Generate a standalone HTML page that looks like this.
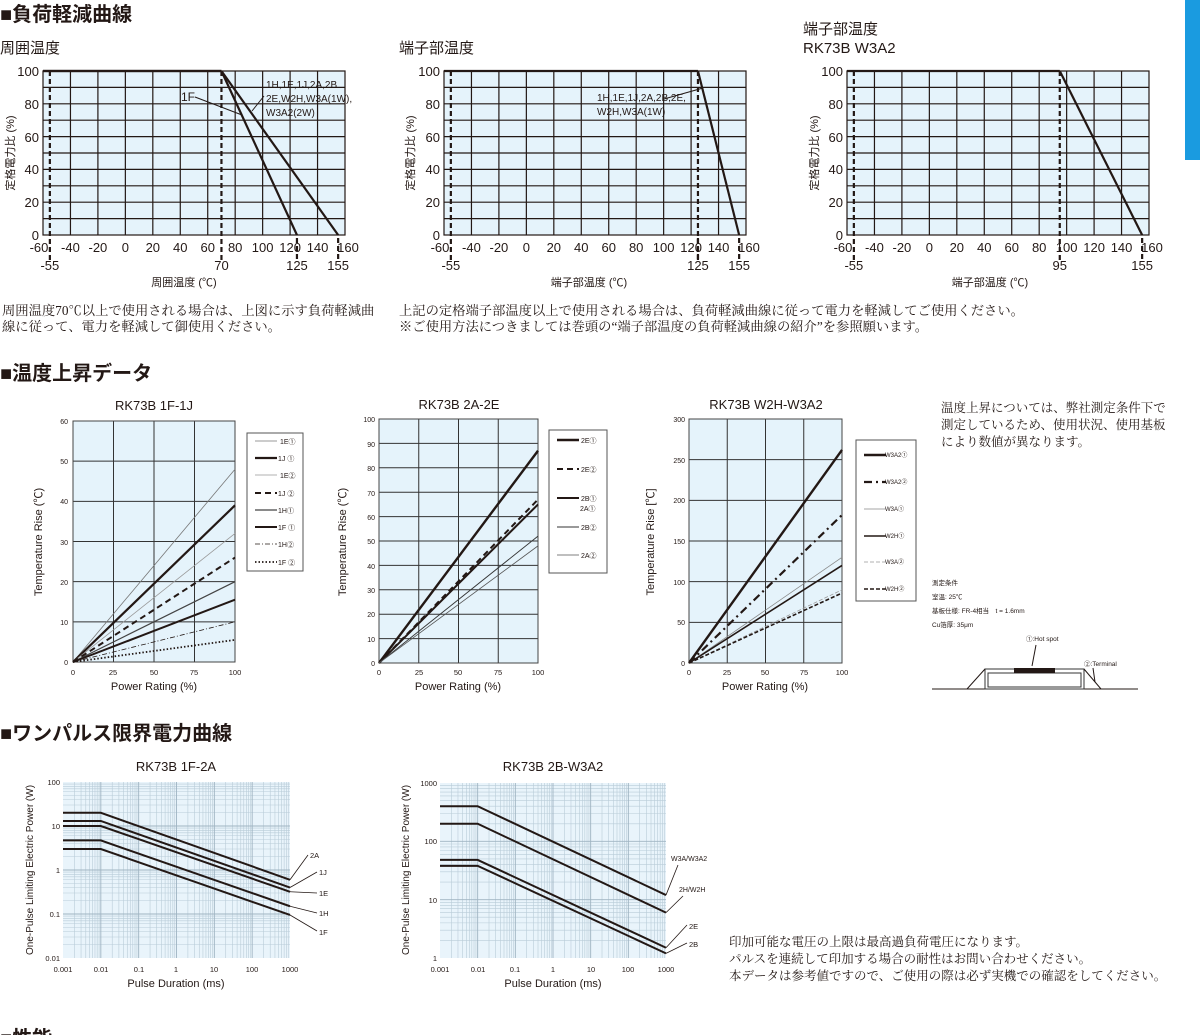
<!DOCTYPE html>
<html><head><meta charset="utf-8">
<style>
html,body{margin:0;padding:0;background:#fff;width:1200px;height:1035px;overflow:hidden}
svg{display:block}
.s{font-family:"Liberation Sans","Noto Sans CJK JP",sans-serif;fill:#231815}
.j{font-family:"Liberation Serif","Noto Serif CJK SC",serif;fill:#231815}
</style></head><body>
<svg id="s" width="1200" height="1035" viewBox="0 0 1200 1035" xmlns="http://www.w3.org/2000/svg">
<g id="g"></g>
<rect x="1185" y="0" width="15" height="160" fill="#1a9be0"/>
<text class="s" x="0" y="21" font-size="20" font-weight="bold">■負荷軽減曲線</text>
<text class="s" x="0" y="53" font-size="15">周囲温度</text>
<text class="s" x="399" y="53" font-size="15">端子部温度</text>
<text class="s" x="803" y="34" font-size="15">端子部温度</text>
<text class="s" x="803" y="53" font-size="15">RK73B W3A2</text>
<g class="s" font-size="13" text-anchor="end">
<text x="39" y="76">100</text><text x="39" y="109">80</text><text x="39" y="142">60</text><text x="39" y="174">40</text><text x="39" y="207">20</text><text x="39" y="240">0</text>
<text x="440" y="76">100</text><text x="440" y="109">80</text><text x="440" y="142">60</text><text x="440" y="174">40</text><text x="440" y="207">20</text><text x="440" y="240">0</text>
<text x="843" y="76">100</text><text x="843" y="109">80</text><text x="843" y="142">60</text><text x="843" y="174">40</text><text x="843" y="207">20</text><text x="843" y="240">0</text>
</g>
<g class="s" font-size="13" text-anchor="middle" id="xl"></g>
<g class="s" font-size="11" text-anchor="middle">
<text x="184" y="286">周囲温度 (℃)</text>
<text x="589" y="286">端子部温度 (℃)</text>
<text x="990" y="286">端子部温度 (℃)</text>
<text transform="translate(14,153) rotate(-90)">定格電力比 (%)</text>
<text transform="translate(414,153) rotate(-90)">定格電力比 (%)</text>
<text transform="translate(818,153) rotate(-90)">定格電力比 (%)</text>
</g>
<g class="s" font-size="10">
<text x="181" y="101" font-size="12">1F</text>
<text x="266" y="88">1H,1E,1J,2A,2B</text>
<text x="266" y="102">2E,W2H,W3A(1W),</text>
<text x="266" y="116">W3A2(2W)</text>
<text x="597" y="101">1H,1E,1J,2A,2B,2E,</text>
<text x="597" y="115">W2H,W3A(1W)</text>
</g>
<g class="j" font-size="13.3">
<text x="2" y="315">周囲温度70℃以上で使用される場合は、上図に示す負荷軽減曲</text>
<text x="2" y="331">線に従って、電力を軽減して御使用ください。</text>
<text x="399" y="315">上記の定格端子部温度以上で使用される場合は、負荷軽減曲線に従って電力を軽減してご使用ください。</text>
<text x="399" y="331">※ご使用方法につきましては巻頭の“端子部温度の負荷軽減曲線の紹介”を参照願います。</text>
</g>
<text class="s" x="0" y="380" font-size="20" font-weight="bold">■温度上昇データ</text>
<g class="s" font-size="13" text-anchor="middle">
<text x="154" y="410">RK73B 1F-1J</text>
<text x="459" y="409">RK73B 2A-2E</text>
<text x="766" y="409">RK73B W2H-W3A2</text>
</g>
<g class="s" font-size="7" text-anchor="end">
<text x="68" y="424">60</text><text x="68" y="464">50</text><text x="68" y="504">40</text><text x="68" y="545">30</text><text x="68" y="585">20</text><text x="68" y="625">10</text><text x="68" y="665">0</text>
<text x="375" y="422">100</text><text x="375" y="447">90</text><text x="375" y="471">80</text><text x="375" y="496">70</text><text x="375" y="520">60</text><text x="375" y="544">50</text><text x="375" y="569">40</text><text x="375" y="593">30</text><text x="375" y="617">20</text><text x="375" y="642">10</text><text x="375" y="666">0</text>
<text x="685" y="422">300</text><text x="685" y="463">250</text><text x="685" y="503">200</text><text x="685" y="544">150</text><text x="685" y="585">100</text><text x="685" y="625">50</text><text x="685" y="666">0</text>
</g>
<g class="s" font-size="7.5" text-anchor="middle">
<text x="73" y="675">0</text><text x="113" y="675">25</text><text x="154" y="675">50</text><text x="194" y="675">75</text><text x="235" y="675">100</text>
<text x="379" y="675">0</text><text x="419" y="675">25</text><text x="458" y="675">50</text><text x="498" y="675">75</text><text x="538" y="675">100</text>
<text x="689" y="675">0</text><text x="727" y="675">25</text><text x="765" y="675">50</text><text x="804" y="675">75</text><text x="842" y="675">100</text>
</g>
<g class="s" font-size="11" text-anchor="middle">
<text x="154" y="690">Power Rating (%)</text>
<text x="458" y="690">Power Rating (%)</text>
<text x="765" y="690">Power Rating (%)</text>
<text transform="translate(42,542) rotate(-90)">Temperature Rise (℃)</text>
<text transform="translate(346,542) rotate(-90)">Temperature Rise (℃)</text>
<text transform="translate(654,542) rotate(-90)">Temperature Rise [℃]</text>
</g>
<g class="s" font-size="7">
<text x="280" y="444">1E①</text><text x="278" y="461">1J ①</text><text x="280" y="478">1E②</text><text x="278" y="496">1J ②</text><text x="278" y="513">1H①</text><text x="278" y="530">1F ①</text><text x="278" y="547">1H②</text><text x="278" y="565">1F ②</text>
<text x="581" y="443">2E①</text><text x="581" y="472">2E②</text><text x="581" y="501">2B①</text><text x="580" y="511">2A①</text><text x="581" y="530">2B②</text><text x="581" y="558">2A②</text>
<text x="885" y="457" font-size="6">W3A2①</text><text x="885" y="484" font-size="6">W3A2②</text><text x="885" y="511" font-size="6">W3A①</text><text x="885" y="538" font-size="6">W2H①</text><text x="885" y="564" font-size="6">W3A②</text><text x="885" y="591" font-size="6">W2H②</text>
</g>
<g class="j" font-size="12.5">
<text x="941" y="412">温度上昇については、弊社測定条件下で</text>
<text x="941" y="429">測定しているため、使用状況、使用基板</text>
<text x="941" y="446">により数値が異なります。</text>
</g>
<g class="s" font-size="6.5">
<text x="932" y="585">測定条件</text>
<text x="932" y="599">室温: 25℃</text>
<text x="932" y="613">基板仕様: FR-4相当　t = 1.6mm</text>
<text x="932" y="627">Cu箔厚: 35μm</text>
<text x="1026" y="641">①:Hot spot</text>
<text x="1084" y="666">②:Terminal</text>
</g>
<text class="s" x="0" y="740" font-size="20" font-weight="bold">■ワンパルス限界電力曲線</text>
<g class="s" font-size="13" text-anchor="middle">
<text x="176" y="771">RK73B 1F-2A</text>
<text x="553" y="771">RK73B 2B-W3A2</text>
</g>
<g class="s" font-size="7.5" text-anchor="end">
<text x="60" y="785">100</text><text x="60" y="829">10</text><text x="60" y="873">1</text><text x="60" y="917">0.1</text><text x="60" y="961">0.01</text>
<text x="437" y="786">1000</text><text x="437" y="844">100</text><text x="437" y="903">10</text><text x="437" y="961">1</text>
</g>
<g class="s" font-size="7.5" text-anchor="middle">
<text x="63" y="972">0.001</text><text x="101" y="972">0.01</text><text x="139" y="972">0.1</text><text x="176" y="972">1</text><text x="214" y="972">10</text><text x="252" y="972">100</text><text x="290" y="972">1000</text>
<text x="440" y="972">0.001</text><text x="478" y="972">0.01</text><text x="515" y="972">0.1</text><text x="553" y="972">1</text><text x="591" y="972">10</text><text x="628" y="972">100</text><text x="666" y="972">1000</text>
</g>
<g class="s" font-size="11" text-anchor="middle">
<text x="176" y="987">Pulse Duration (ms)</text>
<text x="553" y="987">Pulse Duration (ms)</text>
<text transform="translate(33,870) rotate(-90)" font-size="10">One-Pulse Limiting Electric Power (W)</text>
<text transform="translate(409,870) rotate(-90)" font-size="10">One-Pulse Limiting Electric Power (W)</text>
</g>
<g class="s" font-size="7.5">
<text x="310" y="858">2A</text><text x="319" y="875">1J</text><text x="319" y="896">1E</text><text x="319" y="916">1H</text><text x="319" y="935">1F</text>
<text x="671" y="861" font-size="7">W3A/W3A2</text><text x="679" y="892" font-size="7">2H/W2H</text><text x="689" y="929">2E</text><text x="689" y="947">2B</text>
</g>
<g class="j" font-size="12.5">
<text x="729" y="946">印加可能な電圧の上限は最高過負荷電圧になります。</text>
<text x="729" y="963">パルスを連続して印加する場合の耐性はお問い合わせください。</text>
<text x="729" y="980">本データは参考値ですので、ご使用の際は必ず実機での確認をしてください。</text>
</g>
<text class="s" x="0" y="1045" font-size="20" font-weight="bold">■性能</text>
</svg>
<script>
var NS='http://www.w3.org/2000/svg',G=document.getElementById('g');
function el(n,a){var e=document.createElementNS(NS,n);for(var k in a)e.setAttribute(k,a[k]);G.appendChild(e);return e;}
function L(x1,y1,x2,y2,w,c,d){var a={x1:x1,y1:y1,x2:x2,y2:y2,stroke:c||'#231815','stroke-width':w||1};if(d)a['stroke-dasharray']=d;return el('line',a);}
function R(x,y,w,h,f,s,sw){return el('rect',{x:x,y:y,width:w,height:h,fill:f||'none',stroke:s||'none','stroke-width':sw||1});}
var BG='#e5f3fb';
var xl=document.getElementById('xl');
function T(x,y,t){var e=document.createElementNS(NS,'text');e.setAttribute('x',x);e.setAttribute('y',y);e.textContent=t;xl.appendChild(e);}
[[43,70,[[70,125],[70,155]],[125,155]],[444,125,[[125,155]],[125,155]],[847,95,[[95,155]],[155]]].forEach(function(c){
 var x0=c[0],k=302/220;function X(t){return x0+(t+60)*k;}function Y(p){return 235-p*1.64;}
 R(x0,71,302,164,BG);
 for(var t=-40;t<=140;t+=20)L(X(t),71,X(t),235,1.2);
 for(var p=10;p<=90;p+=10)L(x0,Y(p),x0+302,Y(p),1.2);
 R(x0,71,302,164,'none','#231815',1.2);
 L(X(-55),71,X(-55),262,2.2,null,'5,3');
 L(X(c[1]),71,X(c[1]),262,2.2,null,'5,3');
 c[3].forEach(function(t){L(X(t),238,X(t),262,2.2,null,'5,3');});
 c[2].forEach(function(s){L(x0,Y(100),X(s[0]),Y(100),2.2);L(X(s[0]),Y(100),X(s[1]),Y(0),2.2);});
 for(var t=-60;t<=160;t+=20)T(X(t)-(t==-60?4:t==160?-3:0),252,String(t));
 T(X(-55),270,'-55');T(X(c[1]),270,String(c[1]));
 c[3].forEach(function(t){if(t!=c[1])T(X(t),270,String(t));});
});
L(195,97,242,115,1);L(264,96,252,111,1);L(664,99,703,88,1);
function TR(x0,y0,w,h,ny,max,series,lg){
 R(x0,y0,w,h,BG);
 for(var i=1;i<4;i++)L(x0+w*i/4,y0,x0+w*i/4,y0+h,1,'#333');
 for(var i=1;i<ny;i++)L(x0,y0+h*i/ny,x0+w,y0+h*i/ny,1,'#333');
 R(x0,y0,w,h,'none','#444',1);
 series.forEach(function(s){L(x0,y0+h,x0+w,y0+h-h*s[0]/max,s[1],s[2],s[3]);});
 R(lg[0],lg[1],lg[2],lg[3],'#fff','#555',1);
 series.forEach(function(s,i){var y=lg[4][i];L(lg[0]+8,y,lg[0]+30,y,s[1],s[2],s[3]);});
}
TR(73,421,162,241,6,60,[[48,0.8,'#777'],[39,2.2],[32,0.8,'#999'],[26,2,null,'6,4'],[20,1.2,'#444'],[15.5,2],[10,0.8,null,'5,2,1,2'],[5.5,1.8,null,'1.5,2']],[247,433,56,138,[441,458,475,493,510,527,544,562]]);
TR(379,419,159,244,10,100,[[87,2.4],[67,2,null,'6,4'],[65,2],[52,0.9,'#333'],[48,0.8,'#555']],[549,430,58,143,[440,469,498,527,555]]);
TR(689,419,153,244,6,300,[[262,2.4],[182,2.2,null,'8,4,2,4'],[130,0.8,'#888'],[120,1.6],[90,0.8,'#999','4,2'],[86,1.6,null,'4,2']],[856,440,60,161,[455,482,509,536,562,589]]);
L(932,689,1138,689,1);R(985,669,99,20,'#fff','#333',1);R(988,673,93,14,'none','#333',1);
R(1014,668,41,5,'#231815');L(967,689,985,669,1);L(1084,669,1101,689,1);
L(1036,645,1032,666,1);L(1093,668,1095,682,1);
function PC(x0,y0,w,h,ndx,ndy,ymin,series,lbl){
 R(x0,y0,w,h,'#e9f4fb');
 var dx=w/ndx,dy=h/ndy;
 for(var d=0;d<ndx;d++)for(var m=2;m<=9;m++){var x=x0+dx*(d+Math.log10(m));L(x,y0,x,y0+h,0.6,'#b9ccd8');}
 for(var d=0;d<ndy;d++)for(var m=2;m<=9;m++){var y=y0+h-dy*(d+Math.log10(m));L(x0,y,x0+w,y,0.6,'#b9ccd8');}
 for(var d=1;d<ndx;d++)L(x0+dx*d,y0,x0+dx*d,y0+h,0.9,'#9fb4c2');
 for(var d=1;d<ndy;d++)L(x0,y0+h-dy*d,x0+w,y0+h-dy*d,0.9,'#9fb4c2');
 function Y(v){return y0+h-dy*(Math.log10(v)-ymin);}
 series.forEach(function(s,i){
  el('polyline',{points:x0+','+Y(s[0])+' '+(x0+dx)+','+Y(s[0])+' '+(x0+w)+','+Y(s[1]),fill:'none',stroke:'#231815','stroke-width':2});
  L(x0+w,Y(s[1]),lbl[i][0],lbl[i][1],0.8);
 });
}
PC(63,782,227,176,6,4,-2,[[20,0.6],[13,0.4],[10,0.32],[4.7,0.15],[3,0.095]],[[308,855],[317,872],[317,893],[317,913],[317,931]]);
PC(440,783,226,175,6,3,0,[[400,12],[200,6],[48,1.5],[38,1.2]],[[678,865],[683,896],[687,925],[687,943]]);
</script>
</body></html>
